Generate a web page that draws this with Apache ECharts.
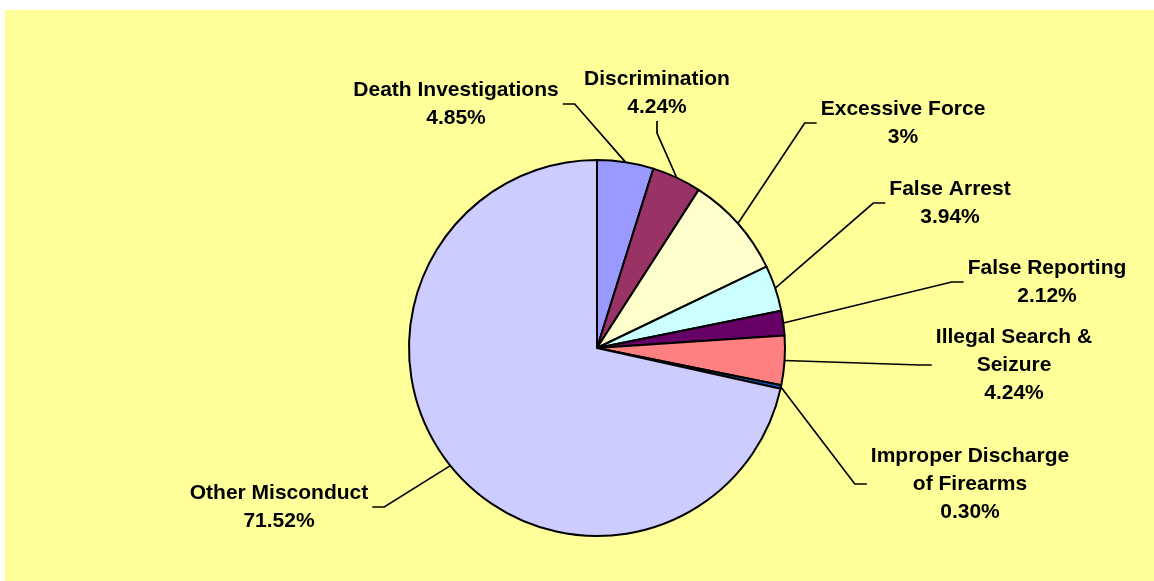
<!DOCTYPE html>
<html>
<head>
<meta charset="utf-8">
<script src="https://cdn.jsdelivr.net/npm/echarts@6/dist/echarts.min.js"></script>
<style>
  html, body { margin: 0; padding: 0; background: #ffffff; }
  #chart { position: absolute; left: 5px; top: 10px; width: 1149px; height: 571px; }
</style>
</head>
<body>
<div id="chart"></div>
<script>
const categories = [
  "Death Investigations",
  "Discrimination",
  "Excessive Force",
  "False Arrest",
  "False Reporting",
  "Illegal Search & Seizure",
  "Improper Discharge of Firearms",
  "Other Misconduct"
];
// slice sizes (percent of all complaints)
const values = [4.85, 4.24, 8.79, 3.94, 2.12, 4.24, 0.30, 71.52];
// percentages printed on the labels
const pctLabels = ["4.85%", "4.24%", "3%", "3.94%", "2.12%", "4.24%", "0.30%", "71.52%"];
// label wording with line breaks as shown
const labelNames = [
  "Death Investigations",
  "Discrimination",
  "Excessive Force",
  "False Arrest",
  "False Reporting",
  "Illegal Search &\nSeizure",
  "Improper Discharge\nof Firearms",
  "Other Misconduct"
];
const colors = ["#9999FF", "#993366", "#FFFFCC", "#CCFFFF", "#660066", "#FF8080", "#0066CC", "#CCCCFF"];

// label centres (layout, page pixels)
const labelCentres = [[456,104],[657,93],[903,123],[950,203],[1047,282],[1014,365],[970,484],[279,507]];
const OFFX = 5, OFFY = 10;

const chart = echarts.init(document.getElementById('chart'), null, { renderer: 'canvas' });
chart.setOption({
  backgroundColor: '#FFFF99',
  animation: false,
  series: [{
    type: 'pie',
    center: [597 - OFFX, 348 - OFFY],
    radius: 188,
    startAngle: 90,
    clockwise: true,
    avoidLabelOverlap: false,
    data: categories.map((c, i) => ({
      name: c,
      value: values[i],
      itemStyle: { color: colors[i] }
    })),
    itemStyle: { borderColor: '#000000', borderWidth: 2 },
    emphasis: { disabled: true },
    label: {
      show: true,
      position: 'outside',
      color: '#000000',
      fontFamily: 'Liberation Sans, Arial, sans-serif',
      fontWeight: 'bold',
      fontSize: 21,
      lineHeight: 28,
      padding: [0, 4],
      formatter: p => labelNames[p.dataIndex] + '\n' + pctLabels[p.dataIndex]
    },
    labelLine: {
      show: true,
      length: 20,
      length2: 12,
      lineStyle: { color: '#000000', width: 1.7 }
    },
    labelLayout: function (params) {
      const c = labelCentres[params.dataIndex];
      return { x: c[0] - OFFX, y: c[1] - OFFY, align: 'center', verticalAlign: 'middle' };
    }
  }]
});
</script>
</body>
</html>
